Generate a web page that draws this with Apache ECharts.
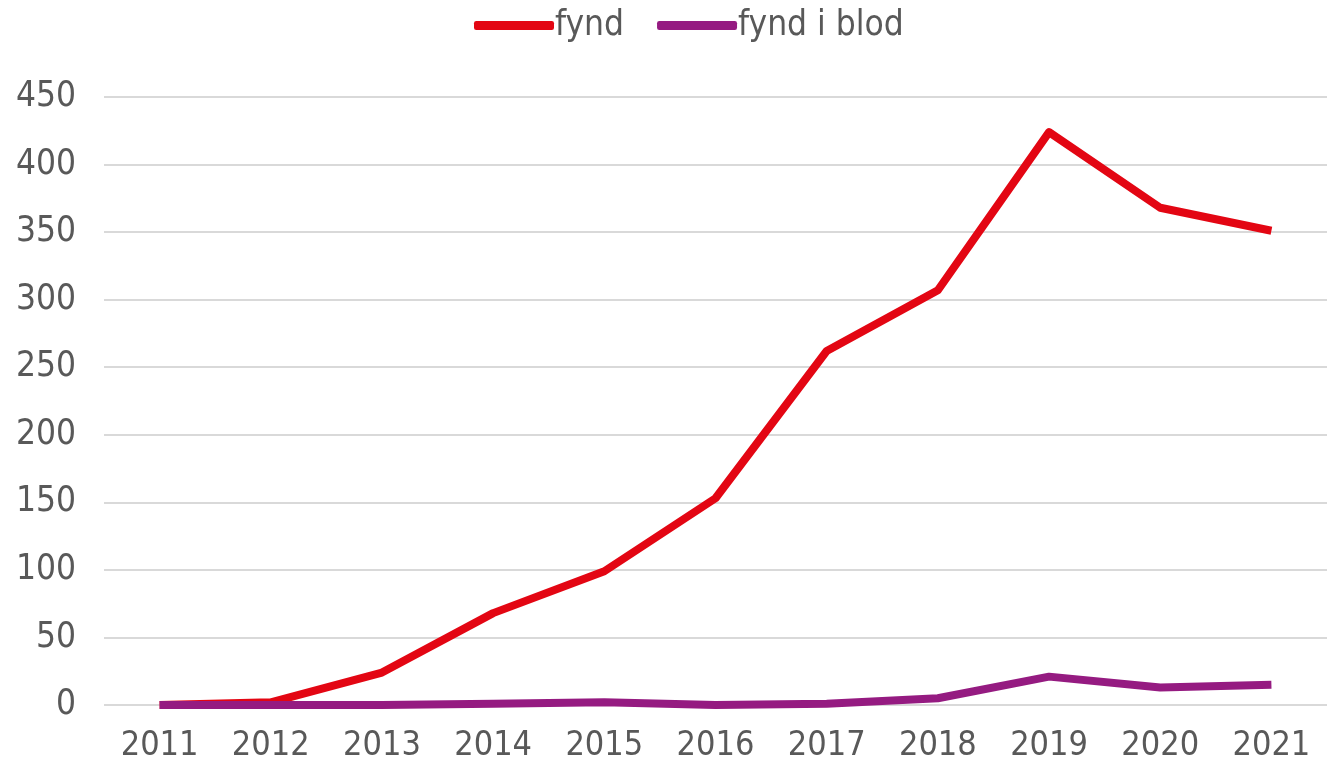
<!DOCTYPE html>
<html><head><meta charset="utf-8">
<script src="https://cdn.jsdelivr.net/npm/echarts@6/dist/echarts.min.js"></script>
<style>html,body{margin:0;padding:0;background:#fff}#c{width:1327px;height:767px}</style>
</head><body><div id="c"></div>
<script>
var years = ['2011','2012','2013','2014','2015','2016','2017','2018','2019','2020','2021'];
var fynd = [0, 2, 24, 68, 99, 153, 262, 307, 424, 368, 351];
var fyndBlod = [0, 0, 0, 1, 2, 0, 1, 5, 21, 13, 15];
var seriesNames = ['fynd', 'fynd i blod'];

var FONT = '"DejaVu Sans Condensed", "DejaVu Sans", sans-serif';
var chart = echarts.init(document.getElementById('c'));
chart.setOption({
  animation: false,
  textStyle: {fontFamily: FONT},
  legend: {
    top: 3, left: 469,
    itemWidth: 80, itemHeight: 9, itemGap: 33,
    icon: 'roundRect',
    textStyle: {fontFamily: FONT, fontSize: 35, color: '#595959', padding: [0,0,0,-4]},
    data: seriesNames
  },
  grid: {left: 104, width: 1229, top: 97, height: 608, containLabel: false},
  xAxis: {
    type: 'category', data: years, boundaryGap: true,
    axisLine: {show: false}, axisTick: {show: false},
    axisLabel: {fontFamily: FONT, fontSize: 34, color: '#595959', margin: 24}
  },
  yAxis: {
    type: 'value', min: 0, max: 450, interval: 50,
    axisLine: {show: false}, axisTick: {show: false},
    splitLine: {lineStyle: {color: '#d9d9d9', width: 2}},
    axisLabel: {fontFamily: FONT, fontSize: 35, color: '#595959', margin: 28}
  },
  series: [
    {name: seriesNames[0], type: 'line', data: fynd, symbol: 'none', color: '#E30613',
     lineStyle: {width: 8, color: '#E30613', cap: 'butt', join: 'round'}},
    {name: seriesNames[1], type: 'line', data: fyndBlod, symbol: 'none', color: '#951B81',
     lineStyle: {width: 8, color: '#951B81', cap: 'butt', join: 'round'}}
  ]
});
</script></body></html>
